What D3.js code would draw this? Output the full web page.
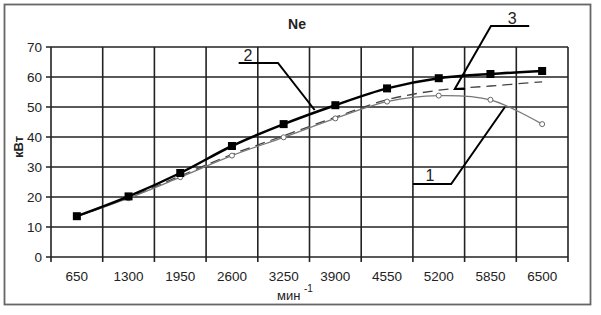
<!DOCTYPE html>
<html>
<head>
<meta charset="utf-8">
<script src="https://cdn.jsdelivr.net/npm/d3@7"></script>
<style>
  body { margin: 0; background: #fff; }
  text { font-family: "Liberation Sans", Arial, sans-serif; fill: #222; }
</style>
</head>
<body>
<script>
// chart data
const rpm = [650, 1300, 1950, 2600, 3250, 3900, 4550, 5200, 5850, 6500];
const ne1 = [13.5, 19.6, 26.6, 33.8, 39.9, 46.2, 51.8, 53.8, 52.4, 44.3];
const ne2 = [13.6, 20.2, 28.0, 37.0, 44.3, 50.6, 56.2, 59.6, 61.0, 62.0];
const ne3 = [13.5, 19.8, 27.0, 34.2, 40.4, 46.6, 52.4, 55.6, 57.0, 58.4];
const yTicks = [0, 10, 20, 30, 40, 50, 60, 70];

// callouts: [category index, kW]
const callouts = [
  { label: "1", text: [6.83, 27.3], path: [[6.5, 24.3], [7.24, 24.3], [8.28, 50]] },
  { label: "2", text: [3.31, 67.3], path: [[3.13, 64.7], [3.89, 64.7], [4.6, 49]] },
  { label: "3", text: [8.42, 79.7], path: [[8.75, 77], [8.01, 77], [7.31, 56], [7.51, 56]] }
];

const W = 601, H = 315;
const plot = { left: 51, right: 568, top: 47, bottom: 257 };

const svg = d3.select("body").append("svg")
  .attr("width", W)
  .attr("height", H);

// outer frame
svg.append("rect")
  .attr("x", 4.5).attr("y", 4.5)
  .attr("width", 586).attr("height", 300)
  .attr("fill", "none")
  .attr("stroke", "#666")
  .attr("stroke-width", 1.8);

const x = d3.scaleBand().domain(rpm).range([plot.left, plot.right]);
const xi = d3.scaleLinear().domain([-0.5, rpm.length - 0.5]).range([plot.left, plot.right]);
const y = d3.scaleLinear().domain([0, 70]).range([plot.bottom, plot.top]);

// horizontal grid + y ticks
svg.append("g").selectAll("line")
  .data(yTicks)
  .enter().append("line")
  .attr("x1", plot.left - 5).attr("x2", plot.right)
  .attr("y1", d => y(d)).attr("y2", d => y(d))
  .attr("stroke", "#222")
  .attr("stroke-width", 1.6);

// vertical grid at category boundaries
const bounds = rpm.map(d => x(d)).concat([plot.right]);
svg.append("g").selectAll("line")
  .data(bounds)
  .enter().append("line")
  .attr("x1", d => d).attr("x2", d => d)
  .attr("y1", plot.top).attr("y2", plot.bottom + 5)
  .attr("stroke", "#222")
  .attr("stroke-width", 1.6);

// y axis labels
svg.append("g")
  .attr("transform", `translate(${plot.left},0)`)
  .call(d3.axisLeft(y).tickValues(yTicks).tickSize(0).tickPadding(9))
  .call(g => g.select(".domain").remove())
  .selectAll("text")
  .attr("font-size", 13.5)
  .style("font-family", "'Liberation Sans', Arial, sans-serif")
  .attr("fill", "#333");

// x axis labels
svg.append("g")
  .attr("transform", `translate(0,${plot.bottom})`)
  .call(d3.axisBottom(x).tickSize(0).tickPadding(14))
  .call(g => g.select(".domain").remove())
  .selectAll("text")
  .attr("font-size", 13.5)
  .style("font-family", "'Liberation Sans', Arial, sans-serif")
  .attr("fill", "#333");

const cx = (d, i) => x(rpm[i]) + x.bandwidth() / 2;
const line = d3.line()
  .x((d, i) => cx(d, i))
  .y(d => y(d))
  .curve(d3.curveCatmullRom.alpha(0.5));

// series 3 (dashed)
svg.append("path")
  .datum(ne3)
  .attr("d", line)
  .attr("fill", "none")
  .attr("stroke", "#444")
  .attr("stroke-width", 1.3)
  .attr("stroke-dasharray", "10,6");

// series 1 (thin, open markers)
svg.append("path")
  .datum(ne1)
  .attr("d", line)
  .attr("fill", "none")
  .attr("stroke", "#777")
  .attr("stroke-width", 1.3);

svg.append("g").selectAll("circle")
  .data(ne1)
  .enter().append("circle")
  .attr("cx", cx)
  .attr("cy", d => y(d))
  .attr("r", 2.5)
  .attr("fill", "#fff")
  .attr("stroke", "#666")
  .attr("stroke-width", 1);

// series 2 (bold, squares)
svg.append("path")
  .datum(ne2)
  .attr("d", line)
  .attr("fill", "none")
  .attr("stroke", "#000")
  .attr("stroke-width", 2.5);

svg.append("g").selectAll("rect")
  .data(ne2)
  .enter().append("rect")
  .attr("x", (d, i) => cx(d, i) - 4)
  .attr("y", d => y(d) - 4)
  .attr("width", 8)
  .attr("height", 8)
  .attr("fill", "#000");

// callouts
const cLine = d3.line().x(p => xi(p[0])).y(p => y(p[1]));
callouts.forEach(c => {
  svg.append("path")
    .attr("d", cLine(c.path))
    .attr("fill", "none")
    .attr("stroke", "#000")
    .attr("stroke-width", 2);
  svg.append("text")
    .attr("x", xi(c.text[0]))
    .attr("y", y(c.text[1]))
    .attr("dy", "0.35em")
    .attr("text-anchor", "middle")
    .attr("font-size", 16)
    .text(c.label);
});

// title
svg.append("text")
  .attr("x", 297).attr("y", 29)
  .attr("text-anchor", "middle")
  .attr("font-size", 14)
  .attr("font-weight", "bold")
  .text("Ne");

// y label
svg.append("text")
  .attr("transform", "translate(23,147) rotate(-90)")
  .attr("text-anchor", "middle")
  .attr("font-size", 13)
  .attr("font-weight", "bold")
  .text("кВт");

// x label with superscript
const xl = svg.append("text")
  .attr("x", 277).attr("y", 300)
  .attr("font-size", 13);
xl.append("tspan").text("мин ");
xl.append("tspan").attr("dy", -8).attr("font-size", 10).text("-1");
</script>
</body>
</html>
